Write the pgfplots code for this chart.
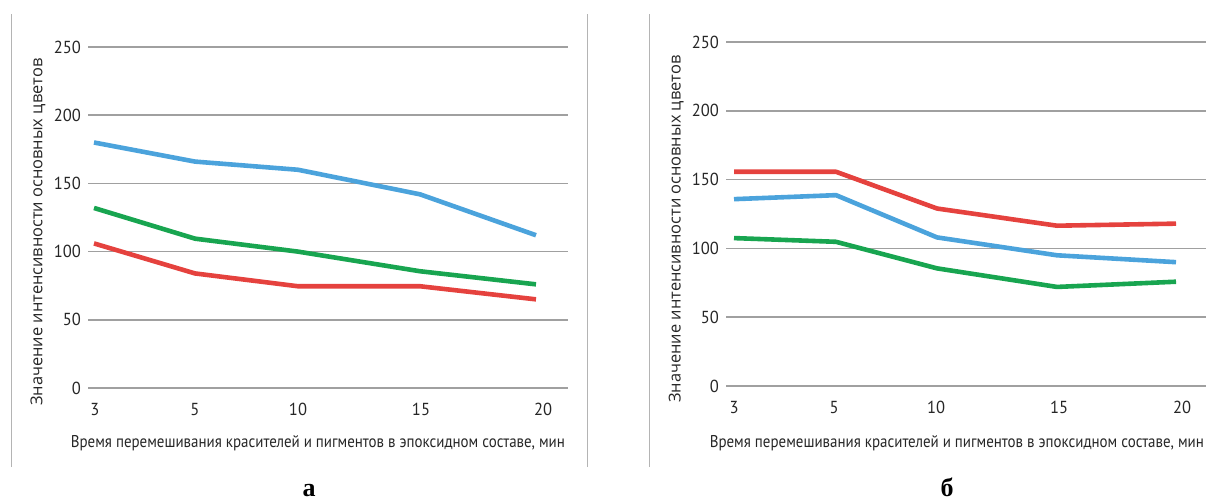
\documentclass[border=0pt]{standalone}
\usepackage{fontspec}
\setmainfont{PT Sans}
\newfontfamily\condfont[FakeStretch=0.88]{PT Sans}
\newfontfamily\tickfont[FakeStretch=0.95]{PT Sans}
\newfontfamily\labelfont{Open Sans}
\newfontfamily\panelfont{Liberation Serif}
\usepackage{pgfplots}
\pgfplotsset{compat=1.18}
\definecolor{cblue}{HTML}{4BA3DC}
\definecolor{cgreen}{HTML}{18A550}
\definecolor{cred}{HTML}{E5423E}
\definecolor{cgrid}{HTML}{A0A0A0}
\definecolor{csep}{HTML}{B4B4B4}
\pgfplotsset{
  panel/.style={
    scale only axis,
    width=240pt,
    ymin=0, ymax=250,
    ytick={0,50,100,150,200,250},
    axis line style={draw=none},
    major tick style={draw=none},
    ymajorgrids,
    grid style={cgrid, line width=0.75pt},
    /pgf/number format/assume math mode=true,
    tick label style={font=\tickfont\fontsize{8.7}{10}\selectfont, text=black!85},
    xticklabel style={yshift=-4pt},
    xlabel={Время перемешивания красителей и пигментов в эпоксидном составе, мин},
    xlabel style={font=\condfont\fontsize{8.5}{10}\selectfont, text=black!85, anchor=center},
    ylabel={Значение интенсивности основных цветов},
    ylabel style={font=\labelfont\fontsize{8.2}{10}\selectfont, text=black!85, anchor=center, rotate=0},
    line/.style={line width=2.3pt, line join=round, line cap=butt},
    clip=false,
  }
}
\begin{document}
\begin{tikzpicture}
\path[use as bounding box] (0,0) rectangle (604pt,250pt);
% panel separators
\draw[csep, line width=0.5pt] (5.75pt,16.5pt) -- (5.75pt,243pt);
\draw[csep, line width=0.5pt] (293.5pt,16.5pt) -- (293.5pt,243pt);
\draw[csep, line width=0.5pt] (324.5pt,16.5pt) -- (324.5pt,243pt);
% panel a
\begin{axis}[panel,
  at={(44pt,56pt)}, anchor=south west, height=170.5pt,
  xmin=88, xmax=568,
  xtick={95,195,298,421,543}, xticklabels={3,5,10,15,20},
  xlabel style={at={(axis description cs:0.479,-0.161)}},
  ylabel style={at={(axis description cs:-0.104,0.457)}},
]
\addplot[line, cblue] coordinates {(94,180) (195,166) (298,160) (420,142) (536,112)};
\addplot[line, cgreen] coordinates {(94,132) (195,109.5) (298,100) (420,85.6) (536,76)};
\addplot[line, cred] coordinates {(94,106) (195,84) (298,74.6) (420,74.6) (536,65)};
\end{axis}
% panel b
\begin{axis}[panel,
  at={(363pt,57pt)}, anchor=south west, height=172pt,
  xmin=726, xmax=1206,
  xtick={734,834,936,1059,1182}, xticklabels={3,5,10,15,20},
  xlabel style={at={(axis description cs:0.481,-0.166)}},
  ylabel style={at={(axis description cs:-0.104,0.456)}},
]
\addplot[line, cred] coordinates {(734,155.7) (836,155.7) (937,129) (1057,116.5) (1176,118)};
\addplot[line, cblue] coordinates {(734,135.8) (836,138.7) (937,108) (1057,95) (1176,90)};
\addplot[line, cgreen] coordinates {(734,107.5) (836,104.8) (937,85.5) (1057,72) (1176,75.8)};
\end{axis}
\node[anchor=base, font=\panelfont\bfseries\fontsize{13}{15}\selectfont] at (154.5pt,2pt) {а};
\node[anchor=base, font=\panelfont\bfseries\fontsize{13}{15}\selectfont] at (473.5pt,2pt) {б};
\end{tikzpicture}
\end{document}
